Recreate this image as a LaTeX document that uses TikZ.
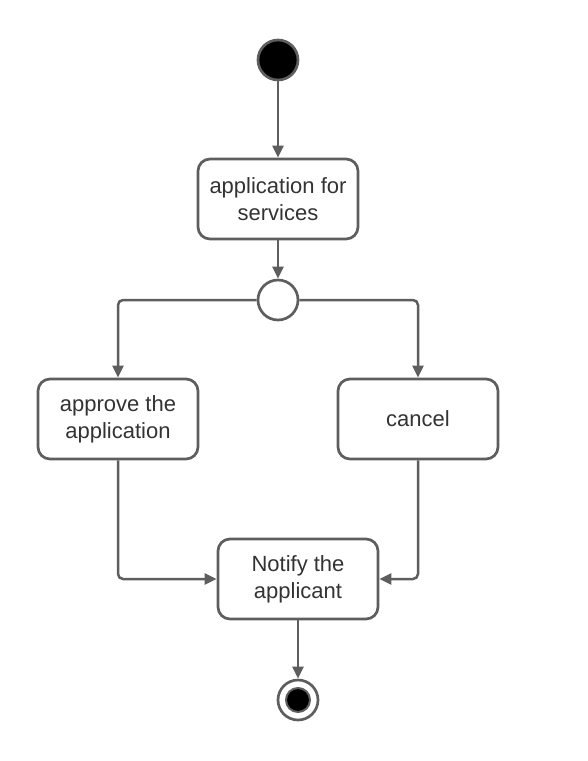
\documentclass[tikz,border=0pt]{standalone}
\usepackage{fontspec}
\setmainfont{Liberation Sans}
\usetikzlibrary{arrows.meta}
\definecolor{edge}{HTML}{5E5E5E}
\definecolor{ink}{HTML}{333333}
\begin{document}
\begin{tikzpicture}[x=1pt,y=-1pt,
  flow/.style={draw=edge, line width=2.5pt, -{Triangle[length=12pt,width=11pt]}},
  activity/.style={draw=edge, line width=2.7pt, fill=white, rounded corners=12pt,
    minimum width=160pt, minimum height=80pt, inner sep=0pt,
    align=center, text=ink, font=\fontsize{22}{27}\selectfont},
  startnode/.style={circle, draw=edge, line width=2.7pt, fill=black, minimum size=40pt, inner sep=0pt},
  mergenode/.style={circle, draw=edge, line width=2.7pt, fill=white, minimum size=40pt, inner sep=0pt},
  endring/.style={circle, draw=edge, line width=2.7pt, fill=white, minimum size=40pt, inner sep=0pt},
  enddot/.style={circle, draw=edge, line width=2pt, fill=black, minimum size=24pt, inner sep=0pt}]
\useasboundingbox (0,0) rectangle (587,761);

\node[startnode] (start) at (278,60) {};
\node[activity] (apply) at (278,199) {application for\\services};
\node[mergenode] (fork) at (278,300) {};
\node[activity] (approve) at (118,419) {approve the\\application};
\node[activity] (cancel) at (418,419) {cancel};
\node[activity] (notify) at (298,579) {Notify the\\applicant};
\node[endring] (final) at (298,700) {};
\node[enddot] at (final) {};

\draw[flow] (start) -- (apply);
\draw[flow] (apply) -- (fork);
\draw[flow, rounded corners=5pt] (fork.west) -| (approve.north);
\draw[flow, rounded corners=5pt] (fork.east) -| (cancel.north);
\draw[flow, rounded corners=5pt] (approve.south) |- (notify.west);
\draw[flow, rounded corners=5pt] (cancel.south) |- (notify.east);
\draw[flow] (notify) -- (final);
\end{tikzpicture}
\end{document}
